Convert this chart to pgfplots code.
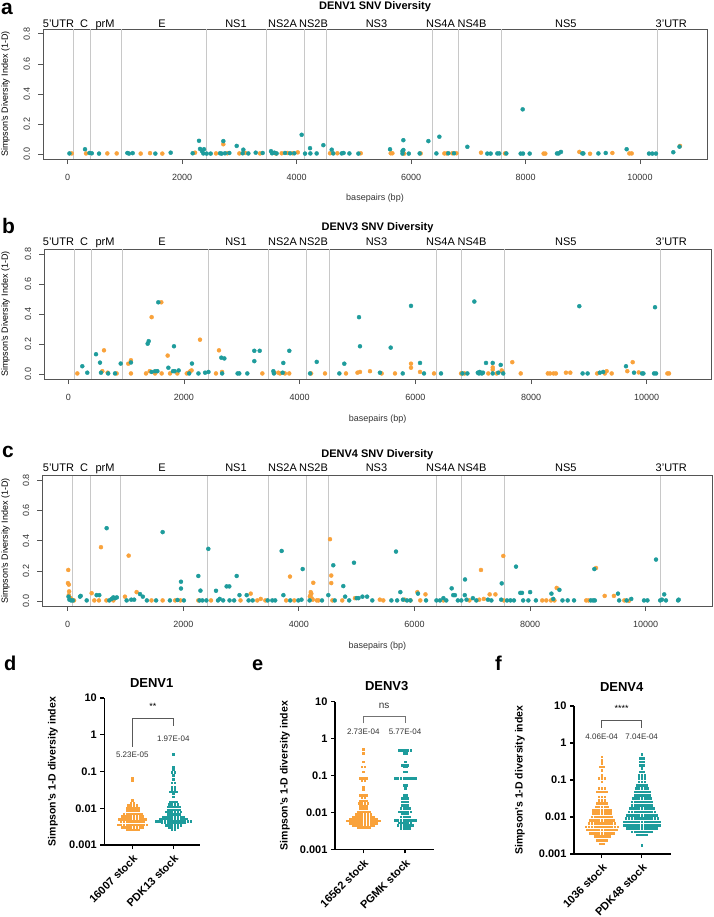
\documentclass[border=0pt]{standalone}
\usepackage{pgfplots}
\pgfplotsset{compat=1.18}
\usepackage{fontspec}
\setmainfont{Liberation Sans}
\definecolor{cor}{HTML}{F9A23B}
\definecolor{ctl}{HTML}{1E9C9C}
\definecolor{gln}{HTML}{C8C8C8}
\definecolor{bx}{HTML}{555555}
\newcommand{\fs}[1]{\fontsize{#1pt}{#1pt}\selectfont}
\pgfplotsset{
 topax/.style={scale only axis, anchor=north west,
   axis line style={bx, line width=0.9pt},
   tick align=outside, major tick length=5pt,
   tick style={bx, line width=0.8pt},
   xtick pos=bottom, ytick pos=left,
   scaled x ticks=false, scaled y ticks=false,
   xtick={0,2000,4000,6000,8000,10000},
   xticklabels={0,2000,4000,6000,8000,10000},
   ytick={0,0.2,0.4,0.6,0.8},
   yticklabels={0.0,0.2,0.4,0.6,0.8},
   ymin=-0.032, ymax=0.832,
   tick label style={font=\fs{9}, text=black!80},
   xticklabel style={yshift=-7pt},
   yticklabel style={xshift=-4.5pt, rotate=90, anchor=south},
   extra x tick labels={},
   extra x tick style={grid=major, tick style={draw=none}, major grid style={gln, line width=0.9pt}},
 },
 dotor/.style={only marks, mark=*, mark size=2pt, color=cor, mark options={draw=none, fill=cor}},
 dottl/.style={only marks, mark=*, mark size=2pt, color=ctl, mark options={draw=none, fill=ctl}},
 botax/.style={scale only axis, anchor=north west, ymin=0.001, ymax=10,
   axis x line*=bottom, axis y line*=left, axis line style={black, line width=1.3pt, -},
   ytick={0.001,0.01,0.1,1,10}, yticklabels={0.001,0.01,0.1,1,10}, yminorticks=false,
   tick align=outside, major tick length=4pt, tick style={black, line width=1.2pt},
   tick label style={font=\bfseries\fs{11}},
   xticklabel style={rotate=45, anchor=north east},
   clip=false},
 swor/.style={only marks, mark=square*, mark size=0.8pt, color=cor, mark options={draw=none, fill=cor}},
 swtl/.style={only marks, mark=square*, mark size=0.8pt, color=ctl, mark options={draw=none, fill=ctl}},
}
\begin{document}
\begin{tikzpicture}
\useasboundingbox (0,0) rectangle (713pt,-917pt);
% ---------------- panel a ----------------
\begin{axis}[topax, at={(43pt,-29pt)}, width=664pt, height=130pt, xmin=-432, xmax=11171,
  extra x ticks={98,402,932,2430,3479,4131,4516,6374,6829,7587,10297}]
\addplot[dotor] coordinates {(70,0.005) (320,0.005) (692,0.005) (856,0.005) (1275,0.004) (1438,0.007) (1653,0.004) (2225,0.01) (2591,0.005) (2719,0.066) (2789,0.006) (2999,0.005) (3100,0.008) (3360,0.005) (3640,0.004) (3739,0.006) (3838,0.008) (3930,0.006) (4020,0.012) (4583,0.006) (4712,0.006) (5120,0.006) (5644,0.006) (5673,0.006) (5880,0.004) (6168,0.005) (6582,0.005) (6625,0.005) (6720,0.006) (6792,0.006) (7222,0.01) (7640,0.005) (8316,0.004) (8345,0.004) (8940,0.015) (9127,0.003) (9517,0.008) (9814,0.005) (9855,0.005) (10699,0.055)};
\addplot[dottl] coordinates {(30,0.005) (302,0.033) (380,0.008) (420,0.006) (547,0.004) (1042,0.008) (1071,0.004) (1135,0.007) (1531,0.004) (1799,0.01) (2183,0.006) (2294,0.089) (2312,0.035) (2347,0.02) (2382,0.033) (2370,0.005) (2428,0.004) (2498,0.004) (2661,0.006) (2690,0.004) (2719,0.087) (2748,0.006) (2824,0.008) (2953,0.055) (3057,0.006) (3069,0.03) (3156,0.005) (3285,0.01) (3407,0.008) (3552,0.02) (3570,0.006) (3610,0.01) (3650,0.005) (3797,0.008) (3885,0.006) (3960,0.006) (4088,0.129) (4147,0.004) (4234,0.04) (4240,0.005) (4350,0.005) (4467,0.06) (4613,0.03) (4640,0.005) (4788,0.005) (4820,0.008) (4922,0.005) (5079,0.004) (5632,0.033) (5865,0.028) (5850,0.02) (5865,0.093) (5850,0.004) (5960,0.004) (6150,0.005) (6302,0.087) (6442,0.005) (6494,0.116) (6650,0.006) (6750,0.006) (6983,0.049) (7332,0.004) (7390,0.004) (7507,0.005) (7540,0.005) (7664,0.005) (7915,0.004) (7956,0.004) (7950,0.298) (8072,0.004) (8549,0.005) (8578,0.005) (8619,0.015) (8993,0.005) (9010,0.005) (9273,0.005) (9401,0.008) (9767,0.033) (10157,0.004) (10215,0.004) (10279,0.004) (10582,0.013) (10690,0.05)};
\end{axis}
% ---------------- panel b ----------------
\begin{axis}[topax, at={(44.3pt,-249.3pt)}, width=666.7pt, height=129.7pt, xmin=-415, xmax=11112,
  extra x ticks={99,392,940,2415,3465,4110,4507,6357,6801,7538,10242}]
\addplot[dotor] coordinates {(156,0.005) (588,0.02) (617,0.159) (680,0.01) (836,0.005) (1037,0.07) (1083,0.093) (1083,0.005) (1343,0.005) (1407,0.02) (1441,0.38) (1500,0.005) (1608,0.479) (1614,0.005) (1718,0.124) (1758,0.005) (1885,0.005) (2048,0.005) (2080,0.01) (2110,0.02) (2131,0.025) (2277,0.23) (2553,0.005) (2605,0.159) (2658,0.015) (3355,0.005) (3560,0.01) (3630,0.01) (3660,0.005) (3746,0.005) (3820,0.005) (4198,0.005) (4438,0.005) (4801,0.005) (5000,0.01) (5043,0.015) (5216,0.02) (5417,0.005) (5648,0.005) (5925,0.07) (5925,0.043) (6081,0.015) (6323,0.005) (6790,0.005) (6850,0.005) (7262,0.005) (7338,0.045) (7338,0.03) (7407,0.005) (7493,0.025) (7510,0.013) (7676,0.08) (7822,0.005) (8290,0.005) (8330,0.005) (8390,0.005) (8430,0.005) (8604,0.01) (8679,0.01) (9143,0.005) (9276,0.005) (9308,0.02) (9395,0.005) (9665,0.02) (9758,0.08) (9862,0.012) (10358,0.005) (10386,0.005)};
\addplot[dottl] coordinates {(242,0.053) (328,0.01) (479,0.133) (548,0.077) (565,0.01) (690,0.005) (807,0.005) (906,0.071) (1083,0.078) (1372,0.203) (1390,0.22) (1441,0.015) (1500,0.02) (1540,0.02) (1556,0.479) (1730,0.043) (1810,0.02) (1827,0.186) (1838,0.02) (1908,0.025) (2090,0.005) (2138,0.071) (2250,0.005) (2365,0.01) (2423,0.015) (2646,0.11) (2660,0.005) (2698,0.105) (2927,0.005) (2956,0.005) (3095,0.005) (3216,0.156) (3216,0.087) (3309,0.156) (3545,0.02) (3555,0.005) (3706,0.01) (3717,0.075) (3821,0.156) (4180,0.005) (4295,0.082) (4686,0.005) (4772,0.07) (5026,0.38) (5043,0.186) (5388,0.01) (5574,0.177) (5782,0.005) (5925,0.455) (6081,0.075) (6150,0.005) (6444,0.005) (6815,0.005) (6900,0.005) (7020,0.484) (7080,0.01) (7100,0.005) (7115,0.015) (7130,0.008) (7150,0.005) (7170,0.01) (7222,0.075) (7338,0.075) (7338,0.005) (7435,0.01) (7476,0.062) (7520,0.005) (8835,0.453) (8892,0.005) (8978,0.005) (9189,0.01) (9247,0.015) (9642,0.053) (9781,0.01) (9920,0.005) (9943,0.005) (10127,0.005) (10162,0.005) (10144,0.446)};
\end{axis}
% ---------------- panel c ----------------
\begin{axis}[topax, at={(42.3pt,-475.7pt)}, width=670pt, height=130.3pt, xmin=-439, xmax=11152,
  extra x ticks={86,397,920,2415,3478,4135,4519,6377,6815,7554,10260}]
\addplot[dotor] coordinates {(10,0.207) (5,0.12) (20,0.11) (25,0.065) (20,0.04) (50,0.02) (70,0.01) (110,0.005) (415,0.053) (461,0.005) (540,0.005) (576,0.358) (670,0.005) (790,0.005) (991,0.03) (1055,0.302) (1193,0.06) (1450,0.005) (1643,0.005) (1860,0.005) (1950,0.005) (2260,0.005) (2480,0.005) (2990,0.005) (3167,0.05) (3280,0.005) (3340,0.015) (3420,0.005) (3780,0.005) (3846,0.163) (3920,0.005) (4190,0.03) (4200,0.04) (4215,0.05) (4205,0.06) (4220,0.02) (4240,0.01) (4249,0.122) (4310,0.005) (4340,0.005) (4538,0.411) (4560,0.17) (4560,0.12) (4580,0.005) (4750,0.005) (4970,0.02) (5400,0.01) (5460,0.005) (5830,0.01) (5930,0.005) (6049,0.06) (6100,0.005) (6190,0.045) (6500,0.005) (6950,0.005) (7120,0.01) (7150,0.207) (7200,0.015) (7300,0.045) (7400,0.045) (7536,0.3) (7545,0.005) (8210,0.005) (8280,0.005) (8360,0.005) (8420,0.005) (8460,0.088) (8970,0.005) (9010,0.005) (9140,0.22) (9290,0.035) (9450,0.035) (9630,0.005) (9710,0.002)};
\addplot[dottl] coordinates {(15,0.03) (30,0.01) (60,0.005) (90,0.005) (213,0.03) (225,0.035) (329,0.005) (501,0.04) (547,0.04) (674,0.484) (720,0.005) (760,0.015) (790,0.025) (820,0.02) (850,0.025) (1020,0.005) (1100,0.01) (1150,0.01) (1251,0.047) (1300,0.03) (1370,0.005) (1530,0.005) (1768,0.005) (1643,0.458) (1900,0.008) (1960,0.129) (1960,0.084) (2010,0.005) (2260,0.167) (2280,0.005) (2297,0.07) (2330,0.005) (2400,0.005) (2433,0.347) (2566,0.069) (2600,0.005) (2630,0.015) (2690,0.005) (2750,0.098) (2796,0.098) (2800,0.005) (2880,0.005) (2924,0.167) (2972,0.04) (3097,0.04) (3130,0.005) (3200,0.005) (3460,0.005) (3540,0.005) (3590,0.005) (3702,0.333) (3732,0.04) (3850,0.005) (3990,0.005) (4045,0.01) (4066,0.213) (4185,0.005) (4400,0.005) (4509,0.04) (4595,0.238) (4620,0.005) (4768,0.1) (4800,0.03) (4870,0.005) (4953,0.255) (5000,0.02) (5030,0.02) (5100,0.03) (5180,0.03) (5270,0.005) (5600,0.005) (5680,0.329) (5700,0.005) (5755,0.06) (5800,0.01) (5870,0.005) (5930,0.005) (6060,0.05) (6200,0.005) (6380,0.005) (6440,0.005) (6500,0.02) (6550,0.005) (6643,0.085) (6670,0.04) (6700,0.04) (6750,0.005) (6810,0.005) (6874,0.144) (6870,0.04) (6900,0.01) (7010,0.02) (7070,0.005) (7270,0.01) (7330,0.005) (7509,0.118) (7500,0.01) (7600,0.005) (7660,0.005) (7720,0.005) (7756,0.229) (7830,0.055) (7860,0.055) (7880,0.005) (7970,0.005) (8000,0.06) (8100,0.005) (8369,0.05) (8400,0.015) (8507,0.075) (8560,0.005) (8650,0.005) (8760,0.005) (9050,0.005) (9090,0.005) (9111,0.213) (9120,0.005) (9520,0.05) (9540,0.005) (9670,0.005) (9750,0.015) (9970,0.005) (10030,0.005) (10178,0.276) (10250,0.005) (10280,0.01) (10350,0.005) (10320,0.045) (10560,0.005) (10570,0.01)};
\end{axis}
% ---------------- top texts ----------------
\node[anchor=base west, font=\bfseries\fs{21}, inner sep=0] at (1pt,-15pt) {a};
\node[anchor=base west, font=\bfseries\fs{21}, inner sep=0] at (2pt,-233.3pt) {b};
\node[anchor=base west, font=\bfseries\fs{21}, inner sep=0] at (2pt,-457.7pt) {c};
\node[anchor=base, font=\bfseries\fs{11}, inner sep=0] at (375pt,-10pt) {DENV1 SNV Diversity};
\node[anchor=base, font=\bfseries\fs{11}, inner sep=0] at (377.6pt,-230.7pt) {DENV3 SNV Diversity};
\node[anchor=base, font=\bfseries\fs{11}, inner sep=0] at (377.3pt,-457.3pt) {DENV4 SNV Diversity};
\foreach \yy in {27.3,245.7,471.7}{
 \foreach \x/\t in {58.5/5'UTR,84/C,105/prM,162/E,236/NS1,282.5/NS2A,313.5/NS2B,376.5/NS3,440.5/NS4A,472/NS4B,565.8/NS5,671.3/3'UTR}{
  \node[anchor=base, font=\fs{11}, inner sep=0] at (\x pt,-\yy pt) {\t};
 }
}
\node[rotate=90, font=\fs{9}] at (5.5pt,-94pt) {Simpson's Diversity Index (1-D)};
\node[rotate=90, font=\fs{9}] at (5.5pt,-314pt) {Simpson's Diversity Index (1-D)};
\node[rotate=90, font=\fs{9}] at (5.5pt,-541pt) {Simpson's Diversity Index (1-D)};
\node[font=\fs{9}, text=black!80] at (375pt,-198pt) {basepairs (bp)};
\node[font=\fs{9}, text=black!80] at (377.6pt,-419pt) {basepairs (bp)};
\node[font=\fs{9}, text=black!80] at (377.3pt,-646pt) {basepairs (bp)};
% ---------------- panel d ----------------
\begin{axis}[ymode=log, botax, at={(104.3pt,-698pt)}, width=95.7pt, height=147pt, xmin=-28, xmax=67.7,
  xtick={0,41}, xticklabels={16007 stock,PDK13 stock}]
\addplot[swor, x filter/.expression={1.2*x}] coordinates {(0,0.068) (0,0.058) (0,0.0166)
(-1.2,0.014) (1.2,0.014)
(-3.6,0.0119) (-1.2,0.0119) (1.2,0.0119) (3.6,0.0119)
(-4.8,0.01) (-2.4,0.01) (0,0.01) (2.4,0.01) (4.8,0.01)
(-4.8,0.0085) (-2.4,0.0085) (0,0.0085) (2.4,0.0085) (4.8,0.0085)
(-7.2,0.0072) (-4.8,0.0072) (-2.4,0.0072) (0,0.0072) (2.4,0.0072) (4.8,0.0072) (7.2,0.0072)
(-8.4,0.006) (-6,0.006) (-3.6,0.006) (-1.2,0.006) (1.2,0.006) (3.6,0.006) (6,0.006) (8.4,0.006)
(-10.8,0.0051) (-8.4,0.0051) (-6,0.0051) (-3.6,0.0051) (-1.2,0.0051) (1.2,0.0051) (3.6,0.0051) (6,0.0051) (8.4,0.0051) (10.8,0.0051)
(-9.6,0.0044) (-7.2,0.0044) (-4.8,0.0044) (-2.4,0.0044) (0,0.0044) (2.4,0.0044) (4.8,0.0044) (7.2,0.0044) (9.6,0.0044)
(-12,0.0036) (-9.6,0.0036) (-7.2,0.0036) (-4.8,0.0036) (-2.4,0.0036) (0,0.0036) (2.4,0.0036) (4.8,0.0036) (7.2,0.0036) (9.6,0.0036) (12,0.0036)
(-8.4,0.0031) (-6,0.0031) (-3.6,0.0031) (-1.2,0.0031) (1.2,0.0031) (3.6,0.0031) (6,0.0031) (8.4,0.0031)
(-4.8,0.0026) (-2.4,0.0026) (0,0.0026) (2.4,0.0026) (4.8,0.0026)};
\addplot[swtl, x filter/.expression={1.2*x+41}] coordinates {(0,0.298) (0,0.135) (0,0.114) (-1.2,0.094) (1.2,0.094) (0,0.08) (0,0.061)
(-1.2,0.049) (1.2,0.049) (-1.2,0.038) (1.2,0.038) (-1.2,0.0325) (1.2,0.0325)
(-2.4,0.028) (0,0.028) (2.4,0.028) (0,0.0253) (0,0.0205)
(-2.4,0.015) (0,0.015) (2.4,0.015)
(-3.6,0.0129) (-1.2,0.0129) (1.2,0.0129) (3.6,0.0129)
(-4.8,0.0109) (-2.4,0.0109) (0,0.0109) (2.4,0.0109) (4.8,0.0109)
(-4.8,0.0092) (-2.4,0.0092) (0,0.0092) (2.4,0.0092) (4.8,0.0092)
(-6,0.008) (-3.6,0.008) (-1.2,0.008) (1.2,0.008) (3.6,0.008) (6,0.008)
(-4.8,0.0069) (-2.4,0.0069) (0,0.0069) (2.4,0.0069) (4.8,0.0069)
(-8.4,0.0058) (-6,0.0058) (-3.6,0.0058) (-1.2,0.0058) (1.2,0.0058) (3.6,0.0058) (6,0.0058) (8.4,0.0058)
(-10.8,0.0052) (-8.4,0.0052) (-6,0.0052) (-3.6,0.0052) (-1.2,0.0052) (1.2,0.0052) (3.6,0.0052) (6,0.0052) (8.4,0.0052) (10.8,0.0052)
(-14.4,0.0045) (-12,0.0045) (-9.6,0.0045) (-7.2,0.0045) (-4.8,0.0045) (-2.4,0.0045) (0,0.0045) (2.4,0.0045) (4.8,0.0045) (7.2,0.0045) (9.6,0.0045) (12,0.0045) (14.4,0.0045)
(-9.6,0.004) (-7.2,0.004) (-4.8,0.004) (-2.4,0.004) (0,0.004) (2.4,0.004) (4.8,0.004) (7.2,0.004) (9.6,0.004)
(-6,0.0035) (-3.6,0.0035) (-1.2,0.0035) (1.2,0.0035) (3.6,0.0035) (6,0.0035)
(-3.6,0.003) (-1.2,0.003) (1.2,0.003) (3.6,0.003)
(-1.2,0.0026) (1.2,0.0026)};
\draw[black!65, line width=0.8pt] (axis cs:0,0.47) -- (axis cs:0,2.8) -- (axis cs:41,2.8) -- (axis cs:41,1.73);
\node[font=\fs{9}] at (axis cs:20.5,6.05) {**};
\node[font=\fs{8}, text=black!80] at (axis cs:0,0.28) {5.23E-05};
\node[font=\fs{8}, text=black!80] at (axis cs:41,0.76) {1.97E-04};
\end{axis}
% ---------------- panel e ----------------
\begin{axis}[ymode=log, botax, at={(335pt,-701.7pt)}, width=99pt, height=147.6pt, xmin=-28.3, xmax=70.7,
  xtick={0,41.7}, xticklabels={16562 stock,PGMK stock}]
\addplot[swor, x filter/.expression={1.2*x}] coordinates {(0,0.51) (0,0.4) (0,0.237) (-1.2,0.173) (1.2,0.173) (0,0.127)
(-2.4,0.084) (0,0.084) (2.4,0.084) (-1.2,0.0755) (1.2,0.0755) (0,0.05) (0,0.042)
(-2.4,0.0296) (0,0.0296) (2.4,0.0296) (-1.2,0.0257) (1.2,0.0257)
(-2.4,0.0208) (0,0.0208) (2.4,0.0208)
(-3.6,0.0176) (-1.2,0.0176) (1.2,0.0176) (3.6,0.0176)
(-2.4,0.0149) (0,0.0149) (2.4,0.0149)
(-2.4,0.0129) (0,0.0129) (2.4,0.0129)
(-4.8,0.0104) (-2.4,0.0104) (0,0.0104) (2.4,0.0104) (4.8,0.0104)
(-6,0.009) (-3.6,0.009) (-1.2,0.009) (1.2,0.009) (3.6,0.009) (6,0.009)
(-8.4,0.0076) (-6,0.0076) (-3.6,0.0076) (-1.2,0.0076) (1.2,0.0076) (3.6,0.0076) (6,0.0076) (8.4,0.0076)
(-10.8,0.0067) (-8.4,0.0067) (-6,0.0067) (-3.6,0.0067) (-1.2,0.0067) (1.2,0.0067) (3.6,0.0067) (6,0.0067) (8.4,0.0067) (10.8,0.0067)
(-13.2,0.006) (-10.8,0.006) (-8.4,0.006) (-6,0.006) (-3.6,0.006) (-1.2,0.006) (1.2,0.006) (3.6,0.006) (6,0.006) (8.4,0.006) (10.8,0.006) (13.2,0.006)
(-10.8,0.0051) (-8.4,0.0051) (-6,0.0051) (-3.6,0.0051) (-1.2,0.0051) (1.2,0.0051) (3.6,0.0051) (6,0.0051) (8.4,0.0051) (10.8,0.0051)
(-8.4,0.0045) (-6,0.0045) (-3.6,0.0045) (-1.2,0.0045) (1.2,0.0045) (3.6,0.0045) (6,0.0045) (8.4,0.0045)
(-4.8,0.0039) (-2.4,0.0039) (0,0.0039) (2.4,0.0039) (4.8,0.0039)};
\addplot[swtl, x filter/.expression={1.2*x+41.7}] coordinates {(-4.8,0.49) (-2.4,0.49) (0,0.49) (2.4,0.49) (4.8,0.49)
(-1.2,0.4) (1.2,0.4) (0,0.237) (-2.4,0.192) (0,0.192) (2.4,0.192) (-1.2,0.173) (1.2,0.173) (-1.2,0.127) (1.2,0.127)
(-8.4,0.084) (-6,0.084) (-3.6,0.084) (-1.2,0.084) (1.2,0.084) (3.6,0.084) (6,0.084) (8.4,0.084)
(-1.2,0.055) (1.2,0.055) (0,0.045) (-1.2,0.0296) (1.2,0.0296)
(-2.4,0.024) (0,0.024) (2.4,0.024)
(-2.4,0.0195) (0,0.0195) (2.4,0.0195)
(-2.4,0.0159) (0,0.0159) (2.4,0.0159)
(-3.6,0.0129) (-1.2,0.0129) (1.2,0.0129) (3.6,0.0129)
(-4.8,0.0104) (-2.4,0.0104) (0,0.0104) (2.4,0.0104) (4.8,0.0104)
(-2.4,0.0094) (0,0.0094) (2.4,0.0094)
(-3.6,0.0076) (-1.2,0.0076) (1.2,0.0076) (3.6,0.0076)
(-8.4,0.0062) (-6,0.0062) (-3.6,0.0062) (-1.2,0.0062) (1.2,0.0062) (3.6,0.0062) (6,0.0062) (8.4,0.0062)
(-4.8,0.0053) (-2.4,0.0053) (0,0.0053) (2.4,0.0053) (4.8,0.0053)
(-6,0.0045) (-3.6,0.0045) (-1.2,0.0045) (1.2,0.0045) (3.6,0.0045) (6,0.0045)
(-3.6,0.0037) (-1.2,0.0037) (1.2,0.0037) (3.6,0.0037)};
\draw[black!55, line width=0.8pt] (axis cs:0,2.6) -- (axis cs:0,4.1) -- (axis cs:41.7,4.1) -- (axis cs:41.7,2.6);
\node[font=\fs{10}, text=black!80] at (axis cs:20.85,7.65) {ns};
\node[font=\fs{8}, text=black!80] at (axis cs:0,1.54) {2.73E-04};
\node[font=\fs{8}, text=black!80] at (axis cs:41.7,1.54) {5.77E-04};
\end{axis}
% ---------------- panel f ----------------
\begin{axis}[ymode=log, botax, at={(574pt,-706pt)}, width=97pt, height=148pt, xmin=-27.7, xmax=69.3,
  xtick={0,40}, xticklabels={1036 stock,PDK48 stock}]
\addplot[swor, x filter/.expression={1.2*x}] coordinates {(0,0.43) (0,0.347) (0,0.283) (-1.2,0.229) (1.2,0.229) (0,0.186) (0,0.136)
(-2.4,0.111) (0,0.111) (2.4,0.111) (0,0.09)
(-2.4,0.0596) (0,0.0596) (2.4,0.0596)
(-3.6,0.0484) (-1.2,0.0484) (1.2,0.0484) (3.6,0.0484)
(-2.4,0.0355) (0,0.0355) (2.4,0.0355)
(-2.4,0.0288) (0,0.0288) (2.4,0.0288)
(-3.6,0.0234) (-1.2,0.0234) (1.2,0.0234) (3.6,0.0234)
(-4.8,0.019) (-2.4,0.019) (0,0.019) (2.4,0.019) (4.8,0.019)
(-7.2,0.0155) (-4.8,0.0155) (-2.4,0.0155) (0,0.0155) (2.4,0.0155) (4.8,0.0155) (7.2,0.0155)
(-7.2,0.0126) (-4.8,0.0126) (-2.4,0.0126) (0,0.0126) (2.4,0.0126) (4.8,0.0126) (7.2,0.0126)
(-8.4,0.0102) (-6,0.0102) (-3.6,0.0102) (-1.2,0.0102) (1.2,0.0102) (3.6,0.0102) (6,0.0102) (8.4,0.0102)
(-9.6,0.0083) (-7.2,0.0083) (-4.8,0.0083) (-2.4,0.0083) (0,0.0083) (2.4,0.0083) (4.8,0.0083) (7.2,0.0083) (9.6,0.0083)
(-10.8,0.0068) (-8.4,0.0068) (-6,0.0068) (-3.6,0.0068) (-1.2,0.0068) (1.2,0.0068) (3.6,0.0068) (6,0.0068) (8.4,0.0068) (10.8,0.0068)
(-13.2,0.0055) (-10.8,0.0055) (-8.4,0.0055) (-6,0.0055) (-3.6,0.0055) (-1.2,0.0055) (1.2,0.0055) (3.6,0.0055) (6,0.0055) (8.4,0.0055) (10.8,0.0055) (13.2,0.0055)
(-12,0.0045) (-9.6,0.0045) (-7.2,0.0045) (-4.8,0.0045) (-2.4,0.0045) (0,0.0045) (2.4,0.0045) (4.8,0.0045) (7.2,0.0045) (9.6,0.0045) (12,0.0045)
(-9.6,0.0036) (-7.2,0.0036) (-4.8,0.0036) (-2.4,0.0036) (0,0.0036) (2.4,0.0036) (4.8,0.0036) (7.2,0.0036) (9.6,0.0036)
(-6,0.003) (-3.6,0.003) (-1.2,0.003) (1.2,0.003) (3.6,0.003) (6,0.003)
(-3.6,0.0024) (-1.2,0.0024) (1.2,0.0024) (3.6,0.0024)
(-1.2,0.0019) (1.2,0.0019)};
\addplot[swtl, x filter/.expression={1.2*x+40}] coordinates {(0,0.49) (-1.2,0.385) (1.2,0.385) (-1.2,0.313) (1.2,0.313) (-1.2,0.254) (1.2,0.254) (0,0.206) (-1.2,0.168) (1.2,0.168)
(-2.4,0.136) (0,0.136) (2.4,0.136)
(-2.4,0.111) (0,0.111) (2.4,0.111)
(-2.4,0.09) (0,0.09) (2.4,0.09)
(-3.6,0.0733) (-1.2,0.0733) (1.2,0.0733) (3.6,0.0733)
(-4.8,0.0596) (-2.4,0.0596) (0,0.0596) (2.4,0.0596) (4.8,0.0596)
(-6,0.0484) (-3.6,0.0484) (-1.2,0.0484) (1.2,0.0484) (3.6,0.0484) (6,0.0484)
(-6,0.0394) (-3.6,0.0394) (-1.2,0.0394) (1.2,0.0394) (3.6,0.0394) (6,0.0394)
(-7.2,0.032) (-4.8,0.032) (-2.4,0.032) (0,0.032) (2.4,0.032) (4.8,0.032) (7.2,0.032)
(-8.4,0.026) (-6,0.026) (-3.6,0.026) (-1.2,0.026) (1.2,0.026) (3.6,0.026) (6,0.026) (8.4,0.026)
(-8.4,0.0211) (-6,0.0211) (-3.6,0.0211) (-1.2,0.0211) (1.2,0.0211) (3.6,0.0211) (6,0.0211) (8.4,0.0211)
(-9.6,0.0172) (-7.2,0.0172) (-4.8,0.0172) (-2.4,0.0172) (0,0.0172) (2.4,0.0172) (4.8,0.0172) (7.2,0.0172) (9.6,0.0172)
(-10.8,0.0139) (-8.4,0.0139) (-6,0.0139) (-3.6,0.0139) (-1.2,0.0139) (1.2,0.0139) (3.6,0.0139) (6,0.0139) (8.4,0.0139) (10.8,0.0139)
(-12,0.0113) (-9.6,0.0113) (-7.2,0.0113) (-4.8,0.0113) (-2.4,0.0113) (0,0.0113) (2.4,0.0113) (4.8,0.0113) (7.2,0.0113) (9.6,0.0113) (12,0.0113)
(-13.2,0.0092) (-10.8,0.0092) (-8.4,0.0092) (-6,0.0092) (-3.6,0.0092) (-1.2,0.0092) (1.2,0.0092) (3.6,0.0092) (6,0.0092) (8.4,0.0092) (10.8,0.0092) (13.2,0.0092)
(-14.4,0.0075) (-12,0.0075) (-9.6,0.0075) (-7.2,0.0075) (-4.8,0.0075) (-2.4,0.0075) (0,0.0075) (2.4,0.0075) (4.8,0.0075) (7.2,0.0075) (9.6,0.0075) (12,0.0075) (14.4,0.0075)
(-14.4,0.0061) (-12,0.0061) (-9.6,0.0061) (-7.2,0.0061) (-4.8,0.0061) (-2.4,0.0061) (0,0.0061) (2.4,0.0061) (4.8,0.0061) (7.2,0.0061) (9.6,0.0061) (12,0.0061) (14.4,0.0061)
(-12,0.0049) (-9.6,0.0049) (-7.2,0.0049) (-4.8,0.0049) (-2.4,0.0049) (0,0.0049) (2.4,0.0049) (4.8,0.0049) (7.2,0.0049) (9.6,0.0049) (12,0.0049)
(-8.4,0.004) (-6,0.004) (-3.6,0.004) (-1.2,0.004) (1.2,0.004) (3.6,0.004) (6,0.004) (8.4,0.004)
(-3.6,0.0033) (-1.2,0.0033) (1.2,0.0033) (3.6,0.0033)
(0,0.00175)};
\draw[black!65, line width=0.8pt] (axis cs:0,2.59) -- (axis cs:0,4.19) -- (axis cs:40,4.19) -- (axis cs:40,2.59);
\node[font=\fs{9}] at (axis cs:20,8.8) {****};
\node[font=\fs{8}, text=black!80] at (axis cs:0,1.48) {4.06E-04};
\node[font=\fs{8}, text=black!80] at (axis cs:40,1.48) {7.04E-04};
\end{axis}
% ---------------- bottom texts ----------------
\node[anchor=base west, font=\bfseries\fs{20}, inner sep=0] at (4pt,-670pt) {d};
\node[anchor=base west, font=\bfseries\fs{20}, inner sep=0] at (252pt,-670.5pt) {e};
\node[anchor=base west, font=\bfseries\fs{20}, inner sep=0] at (495pt,-670pt) {f};
\node[anchor=base, font=\bfseries\fs{13}, inner sep=0] at (151.7pt,-687.7pt) {DENV1};
\node[anchor=base, font=\bfseries\fs{13}, inner sep=0] at (386.7pt,-690pt) {DENV3};
\node[anchor=base, font=\bfseries\fs{13}, inner sep=0] at (621.7pt,-691.7pt) {DENV4};
\node[rotate=90, font=\bfseries\fs{10.5}] at (53pt,-771.5pt) {Simpson's 1-D diversity index};
\node[rotate=90, font=\bfseries\fs{10.5}] at (285pt,-775.5pt) {Simpson's 1-D diversity index};
\node[rotate=90, font=\bfseries\fs{10.5}] at (520pt,-780pt) {Simpson's 1-D diversity index};
\end{tikzpicture}
\end{document}
